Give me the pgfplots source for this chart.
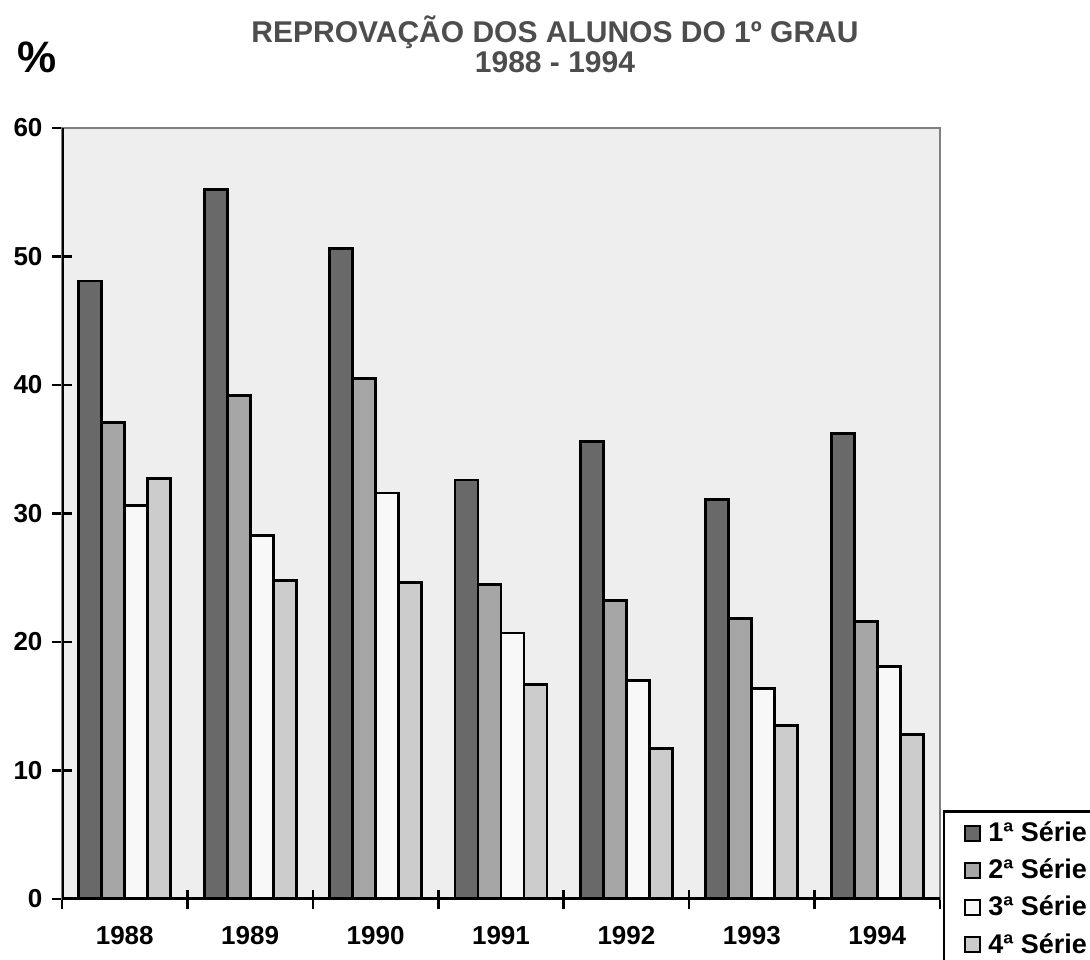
\documentclass[border=0pt]{standalone}
\usepackage{fontspec}
\setmainfont{Liberation Sans}
\usepackage{pgfplots}
\pgfplotsset{compat=1.18}
\definecolor{bgcol}{RGB}{238,238,238}
\definecolor{cA}{RGB}{105,105,105}
\definecolor{cB}{RGB}{166,166,166}
\definecolor{cC}{RGB}{248,248,248}
\definecolor{cD}{RGB}{204,204,204}
\definecolor{titlegray}{RGB}{77,77,77}
\definecolor{framegray}{RGB}{128,128,128}
\begin{document}
\begin{tikzpicture}
\path[use as bounding box] (0,0) rectangle (545pt,479.5pt);
\node[font=\bfseries\fontsize{15}{18}\selectfont, text=titlegray, anchor=center] at (277.5pt,463.5pt) {REPROVAÇÃO DOS ALUNOS DO 1º GRAU};
\node[font=\bfseries\fontsize{15}{18}\selectfont, text=titlegray, anchor=center] at (277.5pt,448.5pt) {1988 - 1994};
\node[font=\bfseries\fontsize{22}{26}\selectfont, anchor=center] at (18.5pt,451pt) {\%};
\begin{axis}[
  at={(31pt,30pt)}, anchor=south west,
  scale only axis, width=439pt, height=385.5pt,
  ybar=0pt, bar width=11.5pt,
  xmin=-0.5, xmax=6.5, ymin=0, ymax=60,
  ytick={0,10,...,60},
  xtick={-0.5,0.5,...,6.5}, xticklabels={},
  extra x ticks={0,1,2,3,4,5,6},
  extra x tick labels={1988,1989,1990,1991,1992,1993,1994},
  extra x tick style={major tick length=0pt},
  xtick pos=bottom, ytick pos=left,
  tick align=center, major tick length=9.5pt,
  tick style={black, line width=1.3pt},
  axis line style={draw=framegray, line width=1.2pt},
  axis background/.style={fill=bgcol},
  /pgf/number format/assume math mode=true,
  tick label style={font=\bfseries\fontsize{13}{15}\selectfont},
  xticklabel style={yshift=-10pt},
  yticklabel style={xshift=-1.5pt},
  every axis plot/.append style={draw=black, line width=1.4pt},
  legend style={at={(rel axis cs:1.003,0.115)}, anchor=north west,
    draw=black, line width=1.4pt, fill=white,
    font=\bfseries\fontsize{13.5}{15}\selectfont,
    row sep=3.2pt, inner xsep=10pt, inner ysep=3pt,
    cells={anchor=west}},
  legend image code/.code={\draw[#1, draw=black, line width=1pt] (0pt,-3.75pt) rectangle (7.5pt,3.75pt); \path (9pt,0pt);},
]
\addplot[fill=cA] coordinates {(0,48.1) (1,55.2) (2,50.6) (3,32.6) (4,35.6) (5,31.1) (6,36.2)};
\addplot[fill=cB] coordinates {(0,37.1) (1,39.2) (2,40.5) (3,24.5) (4,23.2) (5,21.8) (6,21.6)};
\addplot[fill=cC] coordinates {(0,30.6) (1,28.3) (2,31.6) (3,20.7) (4,17.0) (5,16.4) (6,18.1)};
\addplot[fill=cD] coordinates {(0,32.7) (1,24.8) (2,24.6) (3,16.7) (4,11.7) (5,13.5) (6,12.8)};
\legend{1ª Série,2ª Série,3ª Série,4ª Série}
\draw[black, line width=1.6pt] (rel axis cs:0,1) -- (rel axis cs:0,0) -- (rel axis cs:1,0);
\end{axis}
\end{tikzpicture}
\end{document}
